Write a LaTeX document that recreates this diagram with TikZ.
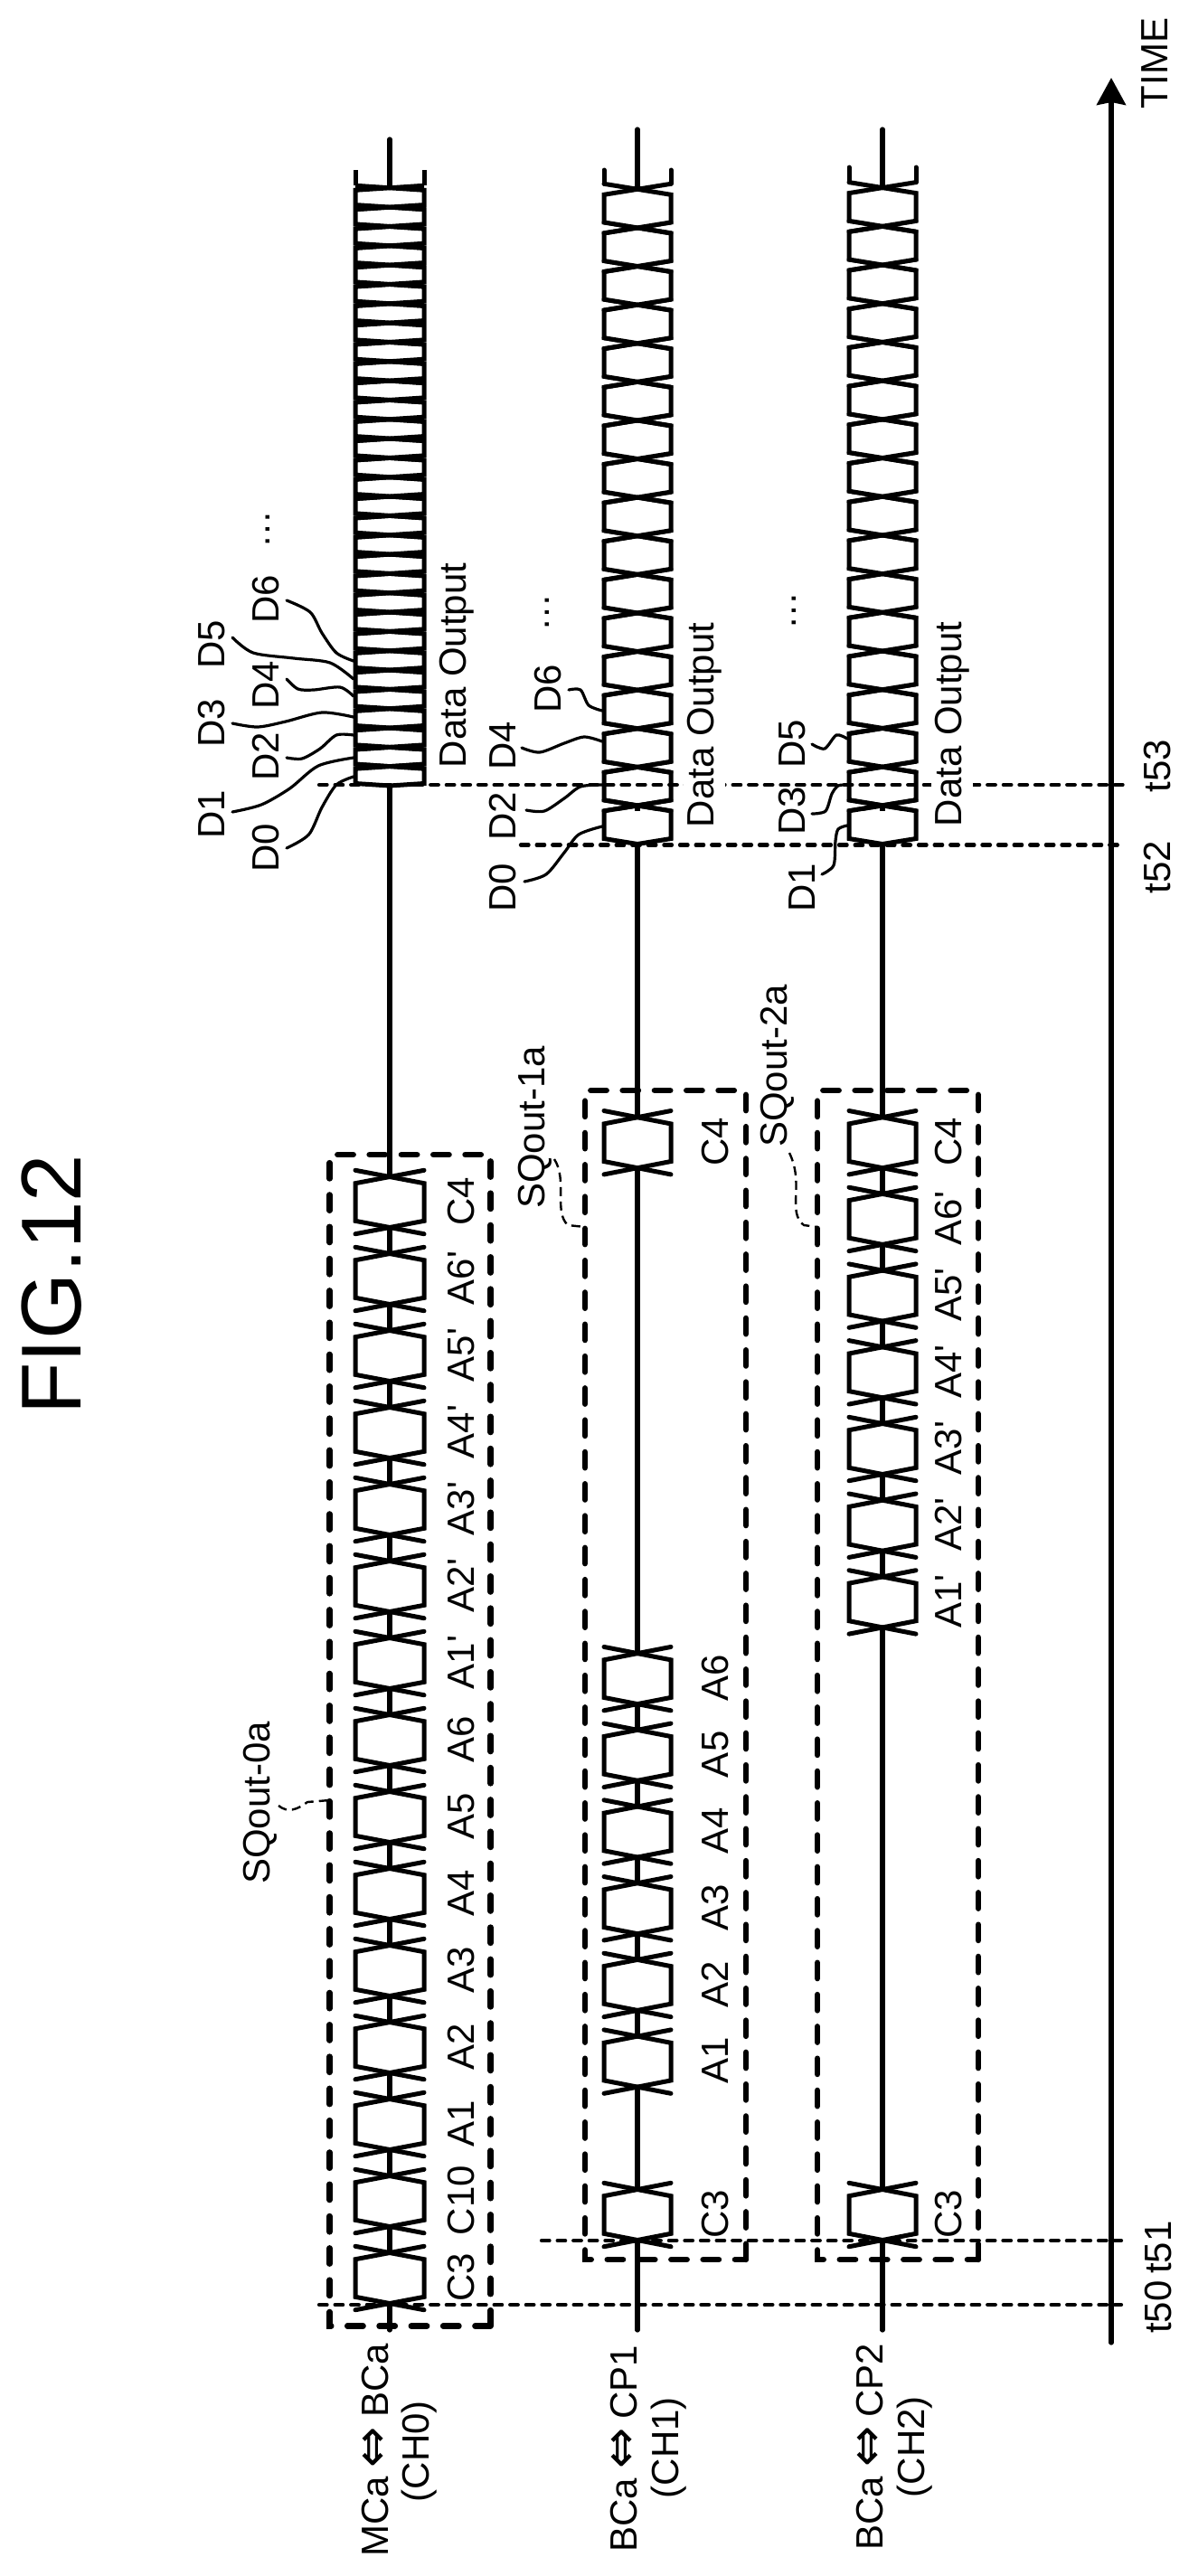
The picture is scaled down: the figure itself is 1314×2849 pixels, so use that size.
\documentclass[tikz,border=0pt]{standalone}
\usepackage{fontspec}
\setmainfont{Liberation Sans}
\newfontfamily\symfont{DejaVu Sans}
\usetikzlibrary{arrows.meta}
\newcommand{\dbl}{\makebox[1em][c]{\symfont\fontsize{27}{25}\selectfont ⇔}}
\newcommand{\prm}{\textquotesingle}
% \hexcell{cx}{ybottom}{height}{d}{hw}
\newcommand{\hexcell}[5]{%
  \fill[white] ({#1-#5},{#2-#3+#4}) -- (#1,{#2-#3}) -- ({#1+#5},{#2-#3+#4}) -- ({#1+#5},{#2-#4}) -- (#1,{#2}) -- ({#1-#5},{#2-#4}) -- cycle;
  \draw[sigline] ({#1-#5},{#2-#3-#4}) -- ({#1+#5},{#2-#3+#4}) -- ({#1+#5},{#2-#4}) -- ({#1-#5},{#2+#4});
  \draw[sigline] ({#1+#5},{#2-#3-#4}) -- ({#1-#5},{#2-#3+#4}) -- ({#1-#5},{#2-#4}) -- ({#1+#5},{#2+#4});
}
% \databus{cx}{ybottom}{pitch}{n-1}{d}{hw}{ytop}
\newcommand{\databus}[7]{%
  \foreach \kk in {1,...,#4}{\hexcell{#1}{#2-#3*\kk}{#3}{#5}{#6}}
  \fill[white] ({#1-#6},{#2-#3+#5}) rectangle ({#1+#6},{#2-#5});
  \fill[white] ({#1-#6},{#2-#5}) -- (#1,#2) -- ({#1+#6},{#2-#5}) -- cycle;
  \draw[sigline] ({#1-#6},{#2-#3-#5}) -- ({#1+#6},{#2-#3+#5}) -- ({#1+#6},{#2-#5}) -- (#1,#2) -- ({#1-#6},{#2-#5}) -- ({#1-#6},{#2-#3+#5}) -- ({#1+#6},{#2-#3-#5});
  \draw[sigline] ({#1-#6},{#2-#3*(#4+1)-#5}) -- ({#1-#6},#7);
  \draw[sigline] ({#1+#6},{#2-#3*(#4+1)-#5}) -- ({#1+#6},#7);
}
\newcommand{\leadr}[4]{\coordinate (#1s) at #2; \coordinate (#1e) at #4; \draw[leadline] plot[smooth] coordinates {(#1s) #3 (#1e)};}
\newcommand{\lab}[4]{\node[txt] (#1) at (#2,#3) {#4};}
\tikzset{
  sigline/.style={line width=2.5pt,line cap=round,line join=miter,miter limit=4},
  axisline/.style={line width=2.6pt,line cap=round},
  boxline/.style={line width=3.2pt,line cap=round,line join=miter,dash pattern=on 8.7pt off 8.95pt},
  markline/.style={line width=2.1pt,line cap=round,dash pattern=on 4.3pt off 4.5pt},
  leadline/.style={line width=1.6pt,line cap=round},
  sqline/.style={line width=1.2pt,dash pattern=on 5pt off 3pt},
  txt/.style={rotate=90,anchor=base,inner sep=0pt,font=\fontsize{21}{25}\selectfont},
  txtw/.style={txt,fill=white,inner sep=2pt},
}
\begin{document}
\begin{tikzpicture}[x=0.5pt,y=-0.5pt]
\useasboundingbox (0,0) rectangle (1314,2849);
% time axis
\coordinate (axb) at (1229,2591);
\coordinate (axt) at (1229,86);
\draw[line width=2.6pt,line cap=round,-{Stealth[length=15pt,width=16pt,inset=1.5pt]}] (axb) -- (axt);
% signal centre lines
\draw[axisline] (431,2577) -- (431,154);
\draw[axisline] (705,2577) -- (705,143);
\draw[axisline] (976,2577) -- (976,143);
% CH0 cells
\foreach \i in {0,...,14}{\hexcell{431}{2547.5-85*\i}{56}{7.2}{38}}
% CH1 cells
\foreach \i in {0,2,3,4,5,6,7,14}{\hexcell{705}{2477.5-84.7*\i}{56}{7.2}{37}}
% CH2 cells
\foreach \i in {0,8,9,10,11,12,13,14}{\hexcell{976}{2477.5-84.7*\i}{56}{7.2}{37}}
% data buses
\begin{scope}[sigline/.append style={line width=2.5pt,line cap=butt}]
\databus{431}{869}{21.33}{30}{2.5}{38}{188}
\end{scope}
\databus{705}{933.5}{42.6}{16}{6}{37}{188}
\databus{976}{933.5}{42.7}{16}{6}{37}{185}
% marker lines
\coordinate (t50a) at (353,2549); \coordinate (t50b) at (1240,2549);
\coordinate (t51a) at (599,2478); \coordinate (t51b) at (1240,2478);
\coordinate (t52a) at (576,934.5); \coordinate (t52b) at (1240,934.5);
\coordinate (t53a) at (353,868); \coordinate (t53b) at (1245,868);
\draw[markline] (t50a) -- (t50b);
\draw[markline] (t51a) -- (t51b);
\draw[markline] (t52a) -- (t52b);
\draw[markline] (t53a) -- (t53b);
% dashed boxes (started at the lower right corner, going up)
\draw[boxline] (542.5,2572.5) -- (542.5,1277) -- (364.5,1277) -- (364.5,2572.5) -- (542.5,2572.5);
\draw[boxline] (825,2499) -- (825,1206) -- (647,1206) -- (647,2499) -- (825,2499);
\draw[boxline] (1082,2499) -- (1082,1206) -- (904,1206) -- (904,2499) -- (1082,2499);
% SQout leaders
\coordinate (sq0s) at (308,1997); \coordinate (sq0e) at (364,1991);
\draw[sqline] (sq0s) .. controls (318,2005) and (328,2002) .. (340,1993) -- (sq0e);
\coordinate (sq1s) at (613,1282); \coordinate (sq1e) at (647,1357);
\draw[sqline] (sq1s) .. controls (628,1305) and (612,1340) .. (628,1355) -- (sq1e);
\coordinate (sq2s) at (873,1275); \coordinate (sq2e) at (904,1357);
\draw[sqline] (sq2s) .. controls (890,1310) and (870,1340) .. (889,1355) -- (sq2e);
% text
\node[txt,font=\fontsize{47}{50}\selectfont] (fig) at (89,1421) {FIG.12};
\lab{time}{1291}{70}{TIME}
\lab{lt50}{1295}{2551.5}{t50}
\lab{lt51}{1295}{2485.5}{t51}
\lab{lt52}{1294}{959}{t52}
\lab{lt53}{1294}{847}{t53}
\lab{lch0a}{429}{2710}{MCa \dbl{} BCa}
\lab{lch0b}{474}{2711}{(CH0)}
\lab{lch1a}{704}{2708}{BCa \dbl{} CP1}
\lab{lch1b}{750}{2707}{(CH1)}
\lab{lch2a}{976}{2706}{BCa \dbl{} CP2}
\lab{lch2b}{1022}{2706}{(CH2)}
\lab{sq0}{298}{1994}{SQout-0a}
\lab{sq1}{602}{1247}{SQout-1a}
\lab{sq2}{870}{1179}{SQout-2a}
% CH0 cell labels
\foreach \i/\t in {0/C3,1/C10,2/A1,3/A2,4/A3,5/A4,6/A5,7/A6,8/A1\prm,9/A2\prm,10/A3\prm,11/A4\prm,12/A5\prm,13/A6\prm,14/C4}{
  \node[txt] (la\i) at (524,2518.5-85*\i) {\t};}
% CH1 cell labels
\foreach \i/\t in {0/C3,2/A1,3/A2,4/A3,5/A4,6/A5,7/A6,14/C4}{
  \node[txt] (lb\i) at (805,2448.5-84.7*\i) {\t};}
% CH2 cell labels
\foreach \i/\t in {0/C3,8/A1\prm,9/A2\prm,10/A3\prm,11/A4\prm,12/A5\prm,13/A6\prm,14/C4}{
  \node[txt] (lc\i) at (1063,2448.5-84.7*\i) {\t};}
% data labels
\lab{da0}{308}{938}{D0}
\lab{da1}{248}{901}{D1}
\lab{da2}{308}{837}{D2}
\lab{da3}{248}{800}{D3}
\lab{da4}{308}{758}{D4}
\lab{da5}{248}{713}{D5}
\lab{da6}{308}{663}{D6}
\lab{daz}{298}{585}{…}
\lab{doa}{515}{736}{Data Output}
\lab{db0}{570}{982}{D0}
\lab{db2}{570}{903}{D2}
\lab{db4}{570}{825}{D4}
\lab{db6}{620}{762}{D6}
\lab{dbz}{607}{677}{…}
\node[txtw] (dob) at (789,802) {Data Output};
\lab{dc1}{901}{982}{D1}
\lab{dc3}{890}{897}{D3}
\lab{dc5}{890}{823}{D5}
\lab{dcz}{880}{675}{…}
\node[txtw] (doc) at (1063,801) {Data Output};
% data leaders
\leadr{la0}{(317,938)}{(341.5,923) (356,893) (372,868)}{(391,859)}
\leadr{la1}{(257,898)}{(289,890) (320.5,872) (352,847)}{(391,838)}
\leadr{la2}{(317,838)}{(334,839) (354,828) (372,813)}{(391,813)}
\leadr{la3}{(257,800)}{(285,804) (316,798) (356,788)}{(391,793)}
\leadr{la4}{(317,751)}{(329.5,762) (347,763) (376,760)}{(391,770)}
\leadr{la5}{(257,705)}{(280,722) (325,728) (365,733)}{(391,751)}
\leadr{la6}{(317,664)}{(343,677) (356,700) (372,722)}{(391,731)}
\leadr{lb0}{(580,975)}{(604,967) (624,943) (640,923)}{(666,914)}
\leadr{lb2}{(582,896)}{(602,897) (624,883) (642,870)}{(666,868)}
\leadr{lb4}{(577,827)}{(597,832) (624,822) (646,815)}{(666,820)}
\leadr{lb6}{(629,763)}{(642,763) (651,780)}{(666,786)}
\leadr{lc1}{(909,967)}{(922,957) (924,930) (927,917)}{(937,913)}
\leadr{lc3}{(898,900)}{(913,897) (920,878) (927,869)}{(937,868)}
\leadr{lc5}{(898,823)}{(912,828) (925,813)}{(937,817)}
\end{tikzpicture}
\end{document}
